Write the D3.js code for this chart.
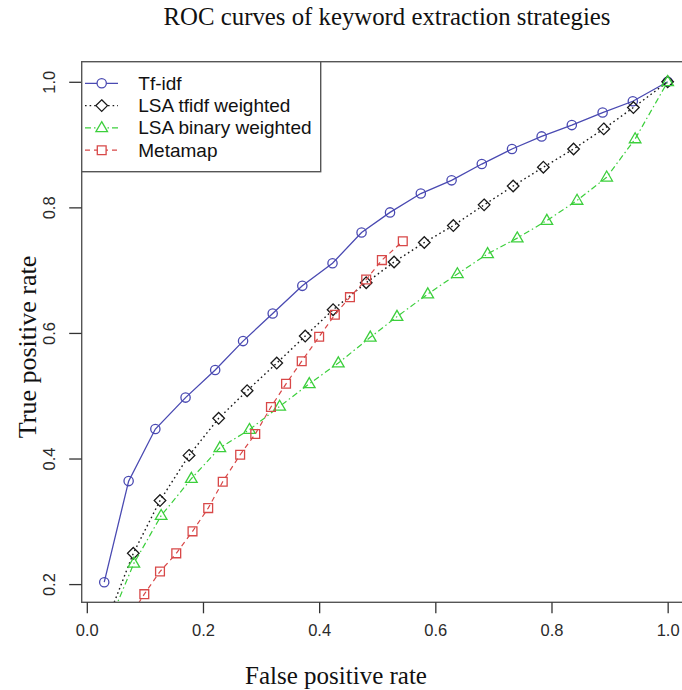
<!DOCTYPE html>
<html>
<head>
<meta charset="utf-8">
<script src="https://cdn.jsdelivr.net/npm/d3@7"></script>
<style>
  html, body { margin: 0; padding: 0; background: #fff; }
  svg { display: block; }
</style>
</head>
<body>
<svg id="chart" width="682" height="690"></svg>
<script>
// ---------- data ----------
const chartTitle = "ROC curves of keyword extraction strategies";
const xLabel = "False positive rate";
const yLabel = "True positive rate";
const xTicks = [0.0, 0.2, 0.4, 0.6, 0.8, 1.0];
const yTicks = [0.2, 0.4, 0.6, 0.8, 1.0];
const seriesNames = ["Tf-idf", "LSA tfidf weighted", "LSA binary weighted", "Metamap"];

const tfidfX = [0.03, 0.072, 0.118, 0.170, 0.221, 0.269, 0.320, 0.371, 0.423, 0.473, 0.522, 0.575, 0.628, 0.680, 0.732, 0.783, 0.835, 0.888, 0.940, 1.0];
const tfidfY = [0.203, 0.364, 0.447, 0.497, 0.541, 0.587, 0.631, 0.675, 0.711, 0.760, 0.792, 0.822, 0.843, 0.869, 0.893, 0.913, 0.931, 0.951, 0.969, 1.0];

const lsaTfidfX = [0.03, 0.080, 0.126, 0.176, 0.227, 0.276, 0.327, 0.376, 0.424, 0.481, 0.529, 0.581, 0.631, 0.684, 0.734, 0.786, 0.838, 0.890, 0.941, 1.0];
const lsaTfidfY = [0.130, 0.249, 0.333, 0.405, 0.464, 0.508, 0.552, 0.595, 0.637, 0.680, 0.713, 0.744, 0.771, 0.804, 0.834, 0.864, 0.893, 0.925, 0.959, 1.0];

const lsaBinaryX = [0.03, 0.081, 0.128, 0.180, 0.229, 0.280, 0.332, 0.383, 0.433, 0.488, 0.534, 0.587, 0.638, 0.690, 0.741, 0.792, 0.844, 0.895, 0.944, 1.0];
const lsaBinaryY = [0.120, 0.233, 0.309, 0.368, 0.417, 0.446, 0.483, 0.519, 0.552, 0.593, 0.626, 0.662, 0.694, 0.726, 0.751, 0.779, 0.811, 0.848, 0.909, 1.0];

const metamapX = [0.072, 0.099, 0.126, 0.154, 0.182, 0.209, 0.234, 0.264, 0.290, 0.317, 0.343, 0.370, 0.400, 0.427, 0.453, 0.481, 0.508, 0.544];
const metamapY = [0.145, 0.184, 0.220, 0.249, 0.284, 0.321, 0.363, 0.406, 0.439, 0.482, 0.519, 0.555, 0.594, 0.629, 0.657, 0.685, 0.716, 0.746];

// ---------- layout ----------
const svg = d3.select("#chart");
const xDomain = [-0.0088, 1.0388];   // R-style 4% expansion of Tf-idf x range
const yDomain = [0.171, 1.032];      // R-style 4% expansion of Tf-idf y range
const x = d3.scaleLinear().domain(xDomain).range([81.7, 690.2]);
const y = d3.scaleLinear().domain(yDomain).range([602.3, 61.7]);

const serif = "'Liberation Serif', 'Times New Roman', serif";
const sans = "'Liberation Sans', Arial, Helvetica, sans-serif";

const series = [
  { name: seriesNames[0], xs: tfidfX, ys: tfidfY, color: "#4a4ab2", dash: null, shape: "circle", lw: 1.3 },
  { name: seriesNames[1], xs: lsaTfidfX, ys: lsaTfidfY, color: "#1a1a1a", dash: "1.6,3", shape: "diamond", lw: 1.4 },
  { name: seriesNames[2], xs: lsaBinaryX, ys: lsaBinaryY, color: "#3ccf3c", dash: "6,3,1.5,3", shape: "triangle", lw: 1.2 },
  { name: seriesNames[3], xs: metamapX, ys: metamapY, color: "#d84848", dash: "5,4", shape: "square", lw: 1.2 }
];

function symbolPath(shape) {
  if (shape === "circle") return d3.symbol().type(d3.symbolCircle).size(68)();
  if (shape === "diamond") return "M0,-5.8L5.8,0L0,5.8L-5.8,0Z";
  if (shape === "triangle") return "M0,-6.2L5.8,3.8L-5.8,3.8Z";
  return "M-4.4,-4.4H4.4V4.4H-4.4Z";
}

// clip
svg.append("clipPath").attr("id", "plotclip")
  .append("rect")
  .attr("x", x(xDomain[0])).attr("y", y(yDomain[1]))
  .attr("width", x(xDomain[1]) - x(xDomain[0]))
  .attr("height", y(yDomain[0]) - y(yDomain[1]));

const plot = svg.append("g").attr("clip-path", "url(#plotclip)");

const line = d3.line().x(d => x(d[0])).y(d => y(d[1]));

series.forEach(s => {
  const pts = s.xs.map((v, i) => [v, s.ys[i]]);
  plot.append("path")
    .datum(pts)
    .attr("d", line)
    .attr("fill", "none")
    .attr("stroke", s.color)
    .attr("stroke-width", s.lw)
    .attr("stroke-dasharray", s.dash);
  plot.selectAll(null)
    .data(pts)
    .enter()
    .append("path")
    .attr("transform", d => `translate(${x(d[0])},${y(d[1])})`)
    .attr("d", symbolPath(s.shape))
    .attr("fill", "none")
    .attr("stroke", s.color)
    .attr("stroke-width", 1.3);
});

// box (left, top, bottom visible; right lies outside the image)
svg.append("rect")
  .attr("x", x(xDomain[0])).attr("y", y(yDomain[1]))
  .attr("width", x(xDomain[1]) - x(xDomain[0]))
  .attr("height", y(yDomain[0]) - y(yDomain[1]))
  .attr("fill", "none")
  .attr("stroke", "#555")
  .attr("stroke-width", 1.4);

// x axis
const xAxis = d3.axisBottom(x).tickValues(xTicks).tickFormat(d3.format(".1f")).tickSize(11).tickPadding(11);
const gx = svg.append("g").attr("transform", `translate(0,${y(yDomain[0])})`).call(xAxis);
gx.select(".domain").remove();
gx.selectAll(".tick line").attr("stroke", "#333").attr("stroke-width", 1.3);
gx.selectAll(".tick text").attr("font-family", sans).attr("font-size", 16.5).attr("fill", "#2a2a2a");

// y axis
const yAxis = d3.axisLeft(y).tickValues(yTicks).tickFormat(d3.format(".1f")).tickSize(12.5).tickPadding(0);
const gy = svg.append("g").attr("transform", `translate(${x(xDomain[0])},0)`).call(yAxis);
gy.select(".domain").remove();
gy.selectAll(".tick line").attr("stroke", "#333").attr("stroke-width", 1.3);
gy.selectAll(".tick text")
  .attr("font-family", sans).attr("font-size", 16.5).attr("fill", "#2a2a2a")
  .attr("text-anchor", "middle")
  .attr("x", 0).attr("dy", 0)
  .attr("transform", "translate(-33,0) rotate(-90)")
  .attr("y", 0)
  .attr("dominant-baseline", "central");

// title & labels
svg.append("text")
  .attr("x", 387).attr("y", 25)
  .attr("text-anchor", "middle")
  .attr("font-family", serif).attr("font-size", 24.8).attr("fill", "#111")
  .text(chartTitle);

svg.append("text")
  .attr("x", 336).attr("y", 684)
  .attr("text-anchor", "middle")
  .attr("font-family", serif).attr("font-size", 25).attr("fill", "#111")
  .text(xLabel);

svg.append("text")
  .attr("transform", "translate(36,347) rotate(-90)")
  .attr("text-anchor", "middle")
  .attr("font-family", serif).attr("font-size", 26).attr("fill", "#111")
  .text(yLabel);

// legend
const lg = svg.append("g");
lg.append("rect")
  .attr("x", x(xDomain[0])).attr("y", y(yDomain[1]))
  .attr("width", 239).attr("height", 110)
  .attr("fill", "#fff").attr("stroke", "#555").attr("stroke-width", 1.4);

series.forEach((s, i) => {
  const cy = 83.3 + i * 22.3;
  lg.append("line")
    .attr("x1", 85).attr("x2", 118).attr("y1", cy).attr("y2", cy)
    .attr("stroke", s.color).attr("stroke-width", s.lw)
    .attr("stroke-dasharray", s.dash);
  lg.append("path")
    .attr("transform", `translate(101.7,${cy})`)
    .attr("d", symbolPath(s.shape))
    .attr("fill", "#fff").attr("stroke", s.color).attr("stroke-width", 1.3);
  lg.append("text")
    .attr("x", 138.3).attr("y", cy)
    .attr("dominant-baseline", "central")
    .attr("font-family", sans).attr("font-size", 19).attr("fill", "#111")
    .text(s.name);
});
</script>
</body>
</html>
